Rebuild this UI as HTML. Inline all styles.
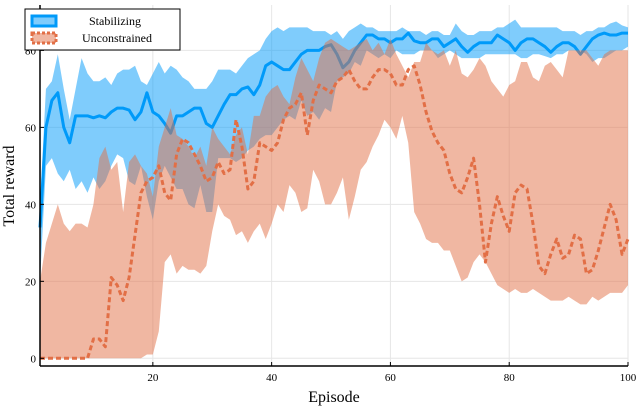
<!DOCTYPE html>
<html><head><meta charset="utf-8"><style>
body{margin:0;background:#fff}
svg{display:block;font-family:"Liberation Serif",serif}
</style></head><body>
<svg id="chart" width="638" height="406">
<g id="grid"></g>
<g id="plot"></g>
<g id="axes"></g>
<text x="334" y="402" font-size="16" text-anchor="middle">Episode</text>
<text transform="translate(14,186) rotate(-90)" font-size="16" text-anchor="middle">Total reward</text>
<g>
<rect x="25" y="9" width="155" height="41" fill="#fff" stroke="#000" stroke-width="1"/>
<g>
<rect x="32" y="16" width="24" height="10" fill="rgba(0,154,249,0.5)" stroke="#009af9" stroke-width="3"/>
<text x="115" y="25" font-size="12" text-anchor="middle">Stabilizing</text></g>
<g>
<rect x="32" y="33" width="24" height="10" fill="rgba(226,111,70,0.5)" stroke="#e26f46" stroke-width="3" stroke-dasharray="3,2"/>
<text x="117" y="42" font-size="12" text-anchor="middle">Unconstrained</text></g>
</g>
</svg>
<script>
const stabMean=[34,60,67,69,60,56,63,63,63,62.5,63,62.5,64,65,65,64.5,62,64,69,64,63,61,58.5,63,63,64,65,65,61,60,63,66,68.5,68.5,70,70.5,68.5,71,76,77,76,75,75,77,79,80,80,80,81,81.5,79,75.5,77,80,82,84,84,83,83,82,83,83,84.5,82.5,82,82,83,83,81,82,83,81,79.5,81,82,82,82,84,83,82,80,82,83,83,82,81,79.5,81,82,82,81,79,81,83,84,84.5,84,84,84.5,84.5];
const stabUpper=[40,70,72,79,70,62,70,78,74,72,72,73,71,74,75,75,76,72,71,74,77,74,76,75,73,72,70,70,70,72,75,75,75,74,76,78,79,80,83,85,86,85,86,86,86,86,85,85,85,84,85,83,85,86,87,86,86,85,85,85,85,86,85,85,85,84,85,85,84,84,87,85,84,84,85,85,85,86,86,87,88,86,86,86,86,86,86,86,85,85,85,84,85,85,86,86,87,87.5,86.5,86];
const stabLower=[20,50,52,48,46,49,44,46,43,47,44,46,50,53,52,46,45,50,42,36,46,50,47,44,44,40,39,45,38,38,52,52,52,51,52,54,55,57,58,58,60,62,63,62,67,63,64,62,65,64,72,73,74,77,76,80,79,78,79,78,80,79,79,79,80,80,80,78,79,80,79,78,78,78,78,79,79,79,79,79,79,78,78,79,79,78.5,78,79,79,80,80,80,79,77,78,78,79,80,80,81];
const uncMean=[0,0,0,0,0,0,0,0,0,5,5,3,21,19,15,21,32,43,46,47,50,43,41,53,57,56,53,50,46,47,51,48,49,62,55,44,46,56,55,54,56,62,65,66,69,58,67,71,70,69,72,73,75,72,70,70,73,75,75,74,71,71,75,76,71,64,59,56,54,48,44,43,47,52,40,25,35,42,37,33,43,45,44,35,24,22,27,31,26,27,32,31,22,23,28,34,40,36,27,31];
const uncUpper=[20,30,35,40,35,33,35,35,34,40,52,55,49,51,38,51,53,50,48,42,55,60,65,58,57,55,52,55,50,60,57,55,53,58,60,53,63,63,68,70,71,68,66,73,78,75,72,78,82,83,82,81,80,81,82,83,80,82,79,83,79,76,73,77,77,82,80,79,80,76,80,74,73,75,78,76,72,70,68,71,72,77,77,73,72,76,77,75,73,80,80,80,80,78,76,79,80,80,80,80];
const uncLower=[0,0,0,0,0,0,0,0,0,0,0,0,0,0,0,0,0,0,1,1,7,25,27,22,24,23,23,22,24,33,40,37,36,32,33,30,33,35,31,35,40,38,45,43,38,39,49,46,40,40,43,47,36,42,49,51,55,58,62,60,57,63,56,38,35,31,30,30,28,28,24,20,21,25,27,25,22,19,18,17,18,17,17,18,17,16,15,15,15,16,15,14,14,16,15,16,17,17,17,19];
const xTicks=[20,40,60,80,100];
const yTicks=[0,20,40,60,80];

const L=40,R=628,T=5,B=366,X0=1,X1=100,Y0=-2,Y1=91.8;
const sx=v=>L+(v-X0)/(X1-X0)*(R-L);
const sy=v=>B-(v-Y0)/(Y1-Y0)*(B-T);
const NS='http://www.w3.org/2000/svg';
function mk(tag,attrs,parent){const e=document.createElementNS(NS,tag);for(const k in attrs)e.setAttribute(k,attrs[k]);parent.appendChild(e);return e;}
const grid=document.getElementById('grid'),plot=document.getElementById('plot'),axes=document.getElementById('axes');
xTicks.forEach(t=>{const g=mk('line',{x1:sx(t),x2:sx(t),y1:T,y2:B,stroke:'#e6e6e6','stroke-width':1},grid);


const tl=mk('text',{x:sx(t),y:B+15,'font-size':11,'text-anchor':'middle'},axes);tl.textContent=t;


const tk=mk('line',{x1:sx(t),x2:sx(t),y1:B,y2:B-4,stroke:'#000'},axes);

});
yTicks.forEach(t=>{const g=mk('line',{x1:L,x2:R,y1:sy(t),y2:sy(t),stroke:'#e6e6e6','stroke-width':1},grid);


const tl=mk('text',{x:L-4,y:sy(t)+4,'font-size':11,'text-anchor':'end'},axes);tl.textContent=t;


const tk=mk('line',{x1:L,x2:L+4,y1:sy(t),y2:sy(t),stroke:'#000'},axes);

});
const xl=mk('line',{x1:L,x2:R,y1:B,y2:B,stroke:'#000','stroke-width':1.5},axes);


const yl=mk('line',{x1:L,x2:L,y1:T,y2:B,stroke:'#000','stroke-width':1.5},axes);



function band(up,lo,fill,name){let p=up.map((v,i)=>sx(i+1)+','+sy(v));for(let i=lo.length-1;i>=0;i--)p.push(sx(i+1)+','+sy(lo[i]));
const e=mk('polygon',{points:p.join(' '),fill:fill},plot);

}
function line(arr,color,dash,name){const e=mk('polyline',{points:arr.map((v,i)=>sx(i+1)+','+sy(v)).join(' '),fill:'none',stroke:color,'stroke-width':3,'stroke-linejoin':'round'},plot);
if(dash)e.setAttribute('stroke-dasharray',dash);

}
band(stabUpper,stabLower,'rgba(0,154,249,0.5)','stabilizing-band');
line(stabMean,'#009af9',null,'stabilizing-line');
band(uncUpper,uncLower,'rgba(226,111,70,0.5)','unconstrained-band');
line(uncMean,'#e26f46','5,3','unconstrained-line');
</script>
</body></html>
